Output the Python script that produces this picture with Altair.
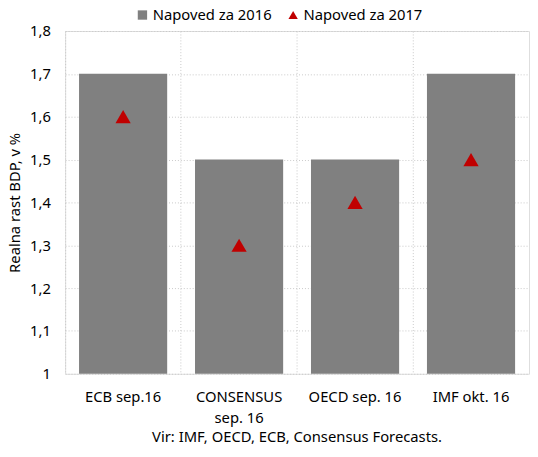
import altair as alt
import pandas as pd

categories = ["ECB sep.16", "CONSENSUS sep. 16", "OECD sep. 16", "IMF okt. 16"]
napoved_2016 = [1.7, 1.5, 1.5, 1.7]
napoved_2017 = [1.6, 1.3, 1.4, 1.5]
series_names = ["Napoved za 2016", "Napoved za 2017"]
y_ticks = [1.0, 1.1, 1.2, 1.3, 1.4, 1.5, 1.6, 1.7, 1.8]

df_bar = pd.DataFrame({"cat": categories, "val": napoved_2016, "series": series_names[0]})
df_pt = pd.DataFrame({"cat": categories, "val": napoved_2017, "series": series_names[1]})

FONT = "Noto Sans"
FS = 15

x_enc = alt.X(
    "cat:N", sort=categories, title=None,
    scale=alt.Scale(paddingInner=0, paddingOuter=0),
    axis=alt.Axis(
        labelAngle=0, ticks=False, domain=False, labelPadding=16,
        labelFontSize=FS, labelColor="black", labelFont=FONT, labelLineHeight=21,
        grid=True, bandPosition=0, gridDash=[1, 2], gridColor="#c8c8c8",
        labelExpr="datum.label == 'CONSENSUS sep. 16' ? ['CONSENSUS', 'sep. 16'] : datum.label",
    ),
)
y_scale = alt.Scale(domain=[1, 1.8], zero=False, nice=False)
y_axis = alt.Axis(
    values=y_ticks, ticks=False, domain=False, labelPadding=15,
    labelFontSize=FS, labelColor="black", labelFont=FONT,
    title="Realna rast BDP, v %", titleFontSize=FS, titleFont=FONT,
    titleFontWeight="normal", titleColor="black", titlePadding=7,
    gridDash=[1, 2], gridColor="#c8c8c8",
    labelExpr="datum.value == 1 ? '1' : replace(format(datum.value, '.1f'), '.', ',')",
)

color_scale = alt.Scale(domain=series_names, range=["#808080", "#C00000"])
shape_scale = alt.Scale(domain=series_names, range=["square", "triangle-up"])
legend = alt.Legend(
    orient="none", legendX=71, legendY=-24, direction="horizontal", title=None,
    labelFontSize=FS, labelFont=FONT, labelColor="black", symbolSize=90,
    columnPadding=14, symbolStrokeWidth=0, labelOffset=3,
)

bars = alt.Chart(df_bar).mark_bar(width=alt.RelativeBandSize(0.76), color="#808080").encode(
    x=x_enc,
    y=alt.Y("val:Q", scale=y_scale, axis=y_axis),
    y2=alt.datum(1),
    color=alt.Color("series:N", scale=color_scale, legend=legend),
)

points = alt.Chart(df_pt).mark_point(filled=True, size=240, opacity=1).encode(
    x=alt.X("cat:N", sort=categories),
    y=alt.Y("val:Q", scale=y_scale),
    color=alt.Color("series:N", scale=color_scale, legend=legend),
    shape=alt.Shape("series:N", scale=shape_scale, legend=legend),
)

chart = alt.layer(bars, points).properties(
    width=471, height=348,
    autosize=alt.AutoSizeParams(type="none"),
    padding={"left": 58, "top": 20, "right": 1, "bottom": 73},
    title=alt.TitleParams(
        "Vir: IMF, OECD, ECB, Consensus Forecasts.", orient="bottom",
        anchor="middle", fontSize=FS, font=FONT, fontWeight="normal",
        color="black", offset=5,
    ),
).configure_view(stroke="#d0d0d0").configure(background="white")

chart.save("out.html", embed_options={"renderer": "svg", "actions": False})
